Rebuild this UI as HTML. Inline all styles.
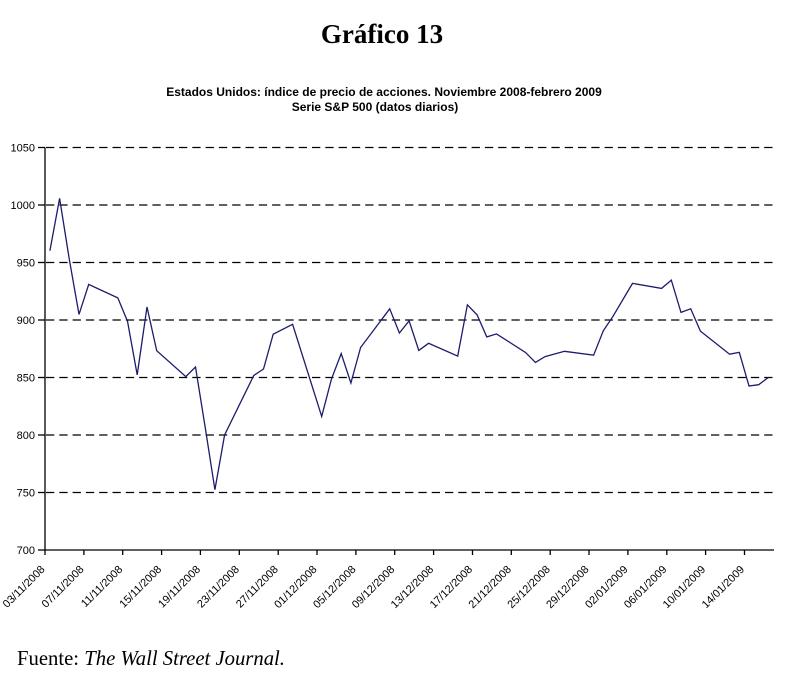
<!DOCTYPE html>
<html>
<head>
<meta charset="utf-8">
<style>
  html,body{margin:0;padding:0;background:#fff;}
  body{width:801px;height:686px;overflow:hidden;}
  svg{display:block;}
</style>
</head>
<body>
<svg width="801" height="686" viewBox="0 0 801 686" xmlns="http://www.w3.org/2000/svg">
  <rect width="801" height="686" fill="#fff"/>
  <!-- Titles -->
  <text x="382" y="43" text-anchor="middle" font-family="Liberation Serif, serif" font-weight="bold" font-size="27" fill="#000">Gráfico 13</text>
  <text x="384" y="96" text-anchor="middle" font-family="Liberation Sans, sans-serif" font-weight="bold" font-size="12" fill="#000">Estados Unidos: índice de precio de acciones. Noviembre 2008-febrero 2009</text>
  <text x="375" y="111" text-anchor="middle" font-family="Liberation Sans, sans-serif" font-weight="bold" font-size="12" fill="#000">Serie S&amp;P 500 (datos diarios)</text>

  <!-- Gridlines -->
  <g stroke="#000" stroke-width="1.3" stroke-dasharray="8.3 5">
    <line x1="46" y1="147.5" x2="774" y2="147.5"/>
    <line x1="46" y1="205" x2="774" y2="205"/>
    <line x1="46" y1="262.5" x2="774" y2="262.5"/>
    <line x1="46" y1="320" x2="774" y2="320"/>
    <line x1="46" y1="377.5" x2="774" y2="377.5"/>
    <line x1="46" y1="435" x2="774" y2="435"/>
    <line x1="46" y1="492.5" x2="774" y2="492.5"/>
  </g>

  <!-- Axes -->
  <g stroke="#000" stroke-width="1.3">
    <line x1="45" y1="147.5" x2="45" y2="550"/>
    <line x1="45" y1="550" x2="774" y2="550"/>
    <!-- y ticks -->
    <line x1="38" y1="147.5" x2="45" y2="147.5"/>
    <line x1="38" y1="205" x2="45" y2="205"/>
    <line x1="38" y1="262.5" x2="45" y2="262.5"/>
    <line x1="38" y1="320" x2="45" y2="320"/>
    <line x1="38" y1="377.5" x2="45" y2="377.5"/>
    <line x1="38" y1="435" x2="45" y2="435"/>
    <line x1="38" y1="492.5" x2="45" y2="492.5"/>
    <line x1="38" y1="550" x2="45" y2="550"/>
    <!-- x ticks -->
    <line x1="45" y1="550" x2="45" y2="555"/>
    <line x1="83.9" y1="550" x2="83.9" y2="555"/>
    <line x1="122.7" y1="550" x2="122.7" y2="555"/>
    <line x1="161.6" y1="550" x2="161.6" y2="555"/>
    <line x1="200.4" y1="550" x2="200.4" y2="555"/>
    <line x1="239.3" y1="550" x2="239.3" y2="555"/>
    <line x1="278.2" y1="550" x2="278.2" y2="555"/>
    <line x1="317" y1="550" x2="317" y2="555"/>
    <line x1="355.9" y1="550" x2="355.9" y2="555"/>
    <line x1="394.7" y1="550" x2="394.7" y2="555"/>
    <line x1="433.6" y1="550" x2="433.6" y2="555"/>
    <line x1="472.5" y1="550" x2="472.5" y2="555"/>
    <line x1="511.3" y1="550" x2="511.3" y2="555"/>
    <line x1="550.2" y1="550" x2="550.2" y2="555"/>
    <line x1="589" y1="550" x2="589" y2="555"/>
    <line x1="627.9" y1="550" x2="627.9" y2="555"/>
    <line x1="666.8" y1="550" x2="666.8" y2="555"/>
    <line x1="705.6" y1="550" x2="705.6" y2="555"/>
    <line x1="744.5" y1="550" x2="744.5" y2="555"/>
  </g>

  <!-- Y labels -->
  <g font-family="Liberation Sans, sans-serif" font-size="11" fill="#000" text-anchor="end">
    <text x="35" y="151.5">1050</text>
    <text x="35" y="209">1000</text>
    <text x="35" y="266.5">950</text>
    <text x="35" y="324">900</text>
    <text x="35" y="381.5">850</text>
    <text x="35" y="439">800</text>
    <text x="35" y="496.5">750</text>
    <text x="35" y="554">700</text>
  </g>

  <!-- X labels -->
  <g font-family="Liberation Sans, sans-serif" font-size="11" fill="#000" text-anchor="end">
    <text transform="translate(45.5,570) rotate(-45)">03/11/2008</text>
    <text transform="translate(84.4,570) rotate(-45)">07/11/2008</text>
    <text transform="translate(123.2,570) rotate(-45)">11/11/2008</text>
    <text transform="translate(162.1,570) rotate(-45)">15/11/2008</text>
    <text transform="translate(200.9,570) rotate(-45)">19/11/2008</text>
    <text transform="translate(239.8,570) rotate(-45)">23/11/2008</text>
    <text transform="translate(278.7,570) rotate(-45)">27/11/2008</text>
    <text transform="translate(317.5,570) rotate(-45)">01/12/2008</text>
    <text transform="translate(356.4,570) rotate(-45)">05/12/2008</text>
    <text transform="translate(395.2,570) rotate(-45)">09/12/2008</text>
    <text transform="translate(434.1,570) rotate(-45)">13/12/2008</text>
    <text transform="translate(473,570) rotate(-45)">17/12/2008</text>
    <text transform="translate(511.8,570) rotate(-45)">21/12/2008</text>
    <text transform="translate(550.7,570) rotate(-45)">25/12/2008</text>
    <text transform="translate(589.5,570) rotate(-45)">29/12/2008</text>
    <text transform="translate(628.4,570) rotate(-45)">02/01/2009</text>
    <text transform="translate(667.3,570) rotate(-45)">06/01/2009</text>
    <text transform="translate(706.1,570) rotate(-45)">10/01/2009</text>
    <text transform="translate(745,570) rotate(-45)">14/01/2009</text>
  </g>

  <!-- Series -->
  <polyline fill="none" stroke="#1c1c6b" stroke-width="1.3" stroke-linejoin="miter"
    points="49.9,250.8 59.6,198.4 69.3,259.3 79.0,314.4 88.7,284.4 117.8,297.9 127.5,321.2 137.2,374.9 147.0,307.0 156.7,350.7 185.8,376.6 195.5,367.0 205.2,427.4 214.9,489.7 224.6,435.0 253.8,375.4 263.5,369.0 273.2,334.2 292.6,324.3 321.7,416.4 331.5,378.9 341.2,353.6 350.9,383.0 360.6,347.5 389.7,308.8 399.4,333.0 409.1,320.9 418.8,350.4 428.6,343.3 457.7,356.1 467.4,304.8 477.1,314.9 486.8,336.9 496.5,333.9 525.7,352.6 535.4,362.4 545.1,356.6 564.5,351.3 593.6,355.2 603.3,330.8 613.0,316.3 632.5,283.4 661.6,288.4 671.3,280.1 681.0,312.4 690.7,308.8 700.4,331.1 729.6,354.2 739.3,352.4 749.0,386.0 758.7,384.7 768.4,377.4"/>

  <!-- Source -->
  <text x="17" y="665" font-family="Liberation Serif, serif" font-size="20.7" fill="#000">Fuente: <tspan font-style="italic">The Wall Street Journal.</tspan></text>
</svg>
</body>
</html>
